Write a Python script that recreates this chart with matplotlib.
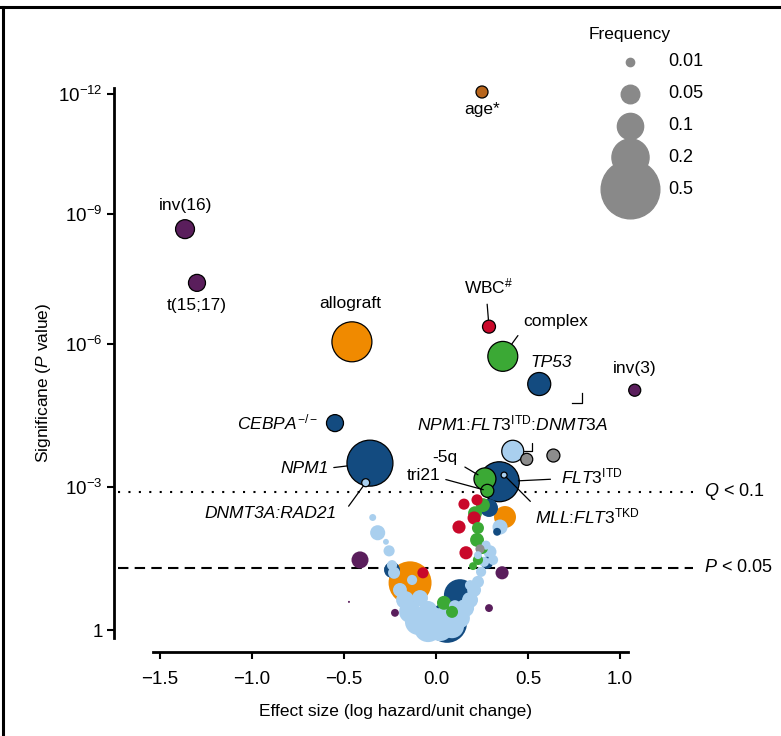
import matplotlib
matplotlib.use("Agg")
from matplotlib import pyplot as plt
from matplotlib import transforms
from matplotlib.lines import Line2D
import numpy as np

plt.rcParams["font.family"] = ["Liberation Sans", "DejaVu Sans"]
plt.rcParams["mathtext.fontset"] = "custom"
plt.rcParams["mathtext.rm"] = "Liberation Sans"
plt.rcParams["mathtext.it"] = "Liberation Sans:italic"
plt.rcParams["mathtext.bf"] = "Liberation Sans:bold"

# colours
dark_blue = "#134B80"
light_blue = "#A9CFEE"
green = "#3BA935"
red = "#C9082A"
orange = "#F08A00"
purple = "#5A1E5C"
grey = "#8C8C8C"
brown = "#B7651C"

# labelled / outlined variables: effect size, -log10 P, frequency
lab_names = ["age", "inv(16)", "t(15;17)", "allograft", "WBC", "complex", "TP53",
             "inv(3)", "CEBPA", "NPM1", "DNMT3A:RAD21", "NPM1:FLT3:DNMT3A",
             "FLT3ITD", "MLL:FLT3TKD", "-5q", "tri21", "grey1", "grey2"]
lab_x = [0.25, -1.364, -1.299, -0.457, 0.288, 0.363, 0.561, 1.08, -0.549, -0.359,
         -0.382, 0.417, 0.344, 0.37, 0.266, 0.279, 0.493, 0.638]
lab_p = [12.05, 8.65, 7.41, 6.05, 6.40, 5.74, 5.16, 5.03, 4.34, 3.50, 3.09, 3.75,
         3.11, 3.25, 3.17, 2.92, 3.58, 3.66]
lab_f = [0.021, 0.052, 0.042, 0.232, 0.0245, 0.13, 0.077, 0.021, 0.042, 0.307,
         0.0093, 0.070, 0.232, 0.0052, 0.070, 0.0245, 0.021, 0.0245]
lab_c = [brown, purple, purple, orange, red, green, dark_blue, purple, dark_blue,
         dark_blue, light_blue, light_blue, dark_blue, light_blue, green, green,
         grey, grey]

# unlabelled variables, by category colour
lb_x = [-0.344, -0.317, -0.272, -0.255, -0.239, -0.228, -0.196, -0.168, -0.141, -0.098,
        -0.043, 0.022, 0.087, 0.130, 0.158, 0.185, 0.207, 0.228, 0.245, 0.261,
        0.293, 0.228, 0.348, -0.087, -0.043, 0.049, 0.103, -0.130, 0.0, 0.185,
        0.272, 0.310]
lb_p = [2.36, 2.04, 1.85, 1.66, 1.36, 1.20, 0.84, 0.63, 0.38, 0.17,
        0.04, 0.04, 0.08, 0.25, 0.46, 0.63, 0.84, 1.01, 1.22, 1.43,
        1.64, 1.57, 2.16, 0.67, 0.42, 0.34, 0.50, 1.05, 0.21, 0.94,
        1.78, 1.47]
lb_f = [0.007, 0.033, 0.005, 0.018, 0.015, 0.021, 0.028, 0.047, 0.070, 0.098,
        0.114, 0.098, 0.084, 0.058, 0.047, 0.037, 0.028, 0.021, 0.015, 0.015,
        0.025, 0.009, 0.033, 0.037, 0.047, 0.037, 0.021, 0.015, 0.084, 0.015,
        0.012, 0.015]

db_x = [-0.239, 0.130, 0.060, 0.277, 0.288, 0.332, -0.033]
db_p = [1.26, 0.73, 0.15, 1.41, 2.56, 2.06, 0.21]
db_f = [0.037, 0.149, 0.232, 0.021, 0.047, 0.009, 0.131]

or_x = [-0.141, 0.375]
or_p = [0.99, 2.37]
or_f = [0.268, 0.070]

rd_x = [-0.071, 0.223, 0.152, 0.207, 0.125, 0.163]
rd_p = [1.20, 2.73, 2.64, 2.35, 2.16, 1.62]
rd_f = [0.018, 0.018, 0.018, 0.025, 0.025, 0.025]

gr_x = [0.212, 0.255, 0.228, 0.223, 0.250, 0.228, 0.201, 0.043, 0.087]
gr_p = [2.45, 2.62, 2.14, 1.89, 1.72, 1.47, 1.34, 0.57, 0.38]
gr_f = [0.028, 0.028, 0.021, 0.028, 0.021, 0.015, 0.009, 0.028, 0.021]

pu_x = [-0.413, -0.473, -0.223, 0.288, 0.359]
pu_p = [1.47, 0.59, 0.36, 0.46, 1.20]
pu_f = [0.042, 0.0006, 0.009, 0.009, 0.025]

gy_x = [0.239]
gy_p = [1.70]
gy_f = [0.012]

legend_freq = [0.01, 0.05, 0.1, 0.2, 0.5]
q_line = 2.9                 # Q < 0.1
p_line = -np.log10(0.05)     # P < 0.05

size_k = 3571  # marker area (pt^2) per unit frequency

# the y axis of the original is compressed above 1e-6
scale_t = [-10, 0, 6, 9, 12, 30]
scale_s = [-10, 0, 6, 8.727, 11.244, 11.244 + 18 * 0.839]


def fwd(t):
    return np.interp(t, scale_t, scale_s)


def inv(y):
    return np.interp(y, scale_s, scale_t)


fig = plt.figure(figsize=(7.81, 7.36), dpi=100)
ax = fig.add_axes([114 / 781, 84 / 736, 579 / 781, 632 / 736])
ax.set_yscale("function", functions=(fwd, inv))
ax.set_xlim(-1.75, 1.3967)
ax.set_ylim(-0.4615, 13.85)

# combine everything and draw large circles first
groups = [(lb_x, lb_p, lb_f, light_blue), (db_x, db_p, db_f, dark_blue),
          (or_x, or_p, or_f, orange), (rd_x, rd_p, rd_f, red),
          (gr_x, gr_p, gr_f, green), (pu_x, pu_p, pu_f, purple),
          (gy_x, gy_p, gy_f, grey)]
xs, ps, fs, cs, es, lws = [], [], [], [], [], []
for gx, gp, gf, col in groups:
    xs += gx; ps += gp; fs += gf
    cs += [col] * len(gx); es += ["none"] * len(gx); lws += [0] * len(gx)
xs += lab_x; ps += lab_p; fs += lab_f
cs += lab_c; es += ["black"] * len(lab_x); lws += [0.9] * len(lab_x)
xs, ps, fs = np.array(xs), np.array(ps), np.array(fs)
order = np.argsort(-fs, kind="stable")
ax.scatter(xs[order], ps[order], s=size_k * fs[order],
           c=[cs[i] for i in order], edgecolors=[es[i] for i in order],
           linewidths=[lws[i] for i in order], zorder=2)

# threshold lines
x0, x1 = 4 / 579, 581 / 579
ax.axhline(q_line, x0, x1, color="black", lw=1.5, ls=(0, (1, 4)), zorder=1)
ax.axhline(p_line, x0, x1, color="black", lw=1.5, ls=(0, (5, 3)), zorder=1)
bt = transforms.blended_transform_factory(ax.transAxes, ax.transData)
ax.text(1.019, q_line, r"$\mathit{Q}$ < 0.1", transform=bt, fontsize=13,
        ha="left", va="center")
ax.text(1.019, p_line, r"$\mathit{P}$ < 0.05", transform=bt, fontsize=13,
        ha="left", va="center")

# labels
pos = {n: (lab_x[i], lab_p[i]) for i, n in enumerate(lab_names)}
fs_lab = 12.5
line = dict(arrowstyle="-", lw=0.9, color="black")


def label(name, text, dx, dy, ha="center", style="normal", arrow=None):
    ax.annotate(text, xy=pos[name], xytext=(dx, dy), textcoords="offset pixels",
                ha=ha, va="center", fontsize=fs_lab, fontstyle=style,
                arrowprops=arrow, zorder=4)


label("age", "age*", 0, -18)
label("inv(16)", "inv(16)", 1, 24)
label("t(15;17)", "t(15;17)", 0, -23)
label("allograft", "allograft", -2, 38)
label("WBC", r"WBC$^{\#}$", 0, 40,
      arrow=dict(line, relpos=(0.45, 0), shrinkA=3.5, shrinkB=5))
label("complex", "complex", 20, 35, ha="left",
      arrow=dict(line, relpos=(0, 0), shrinkA=3.5, shrinkB=10.8))
label("TP53", "TP53", 12, 22, style="italic")
label("inv(3)", "inv(3)", 0, 22)
label("CEBPA", r"$\mathit{CEBPA}^{-/-}$", -17, 1, ha="right")
label("NPM1", "NPM1", -41, -5, ha="right", style="italic",
      arrow=dict(line, relpos=(1, 0.5), shrinkA=1.5, shrinkB=16.5))
label("DNMT3A:RAD21", "DNMT3A:RAD21", -29, -31, ha="right", style="italic",
      arrow=dict(line, relpos=(1.09, 1), shrinkA=0, shrinkB=3))
label("NPM1:FLT3:DNMT3A",
      r"$\mathit{NPM1}$:$\mathit{FLT3}^{\mathrm{ITD}}$:$\mathit{DNMT3A}$", 0, 28,
      arrow=dict(line, relpos=(0.6, 0), shrinkA=5, shrinkB=8,
                 connectionstyle="angle,angleA=90,angleB=0,rad=0"))
label("FLT3ITD", r"$\mathit{FLT3}^{\mathrm{ITD}}$", 62, 5, ha="left",
      arrow=dict(line, relpos=(0, 0.4), shrinkA=5.8, shrinkB=13.7))
label("MLL:FLT3TKD", r"$\mathit{MLL}$:$\mathit{FLT3}^{\mathrm{TKD}}$", 31, -41,
      ha="left", arrow=dict(line, relpos=(0, 1), shrinkA=2, shrinkB=2))
label("-5q", "-5q", -28, 21, ha="right",
      arrow=dict(line, relpos=(1, 0.2), shrinkA=4.3, shrinkB=5.8))
label("tri21", "tri21", -47, 15, ha="right",
      arrow=dict(line, relpos=(1, 0.35), shrinkA=2, shrinkB=3))

# axes styling
for side in ["top", "right"]:
    ax.spines[side].set_visible(False)
ax.spines["left"].set_linewidth(2)
ax.spines["bottom"].set_linewidth(2)
ax.spines["left"].set_bounds(-0.168, 12.15)
ax.spines["bottom"].set_bounds(-1.538, 1.043)
ax.set_xticks([-1.5, -1.0, -0.5, 0.0, 0.5, 1.0])
ax.set_xticklabels(["\u22121.5", "\u22121.0", "\u22120.5", "0.0", "0.5", "1.0"])
ax.set_yticks([0, 3, 6, 9, 12])
ax.set_yticklabels(["1", r"$\mathregular{10^{-3}}$", r"$\mathregular{10^{-6}}$",
                    r"$\mathregular{10^{-9}}$", r"$\mathregular{10^{-12}}$"])
ax.tick_params(axis="both", direction="out", length=5, width=1.5, labelsize=13.5)
ax.tick_params(axis="x", pad=9)
ax.tick_params(axis="y", pad=3)
ax.minorticks_off()

lab_font = dict(family=["Liberation Sans"], fontsize=12.5)
ax.set_xlabel("Effect size (log hazard/unit change)", **lab_font)
ax.set_ylabel(r"Significane ($\mathit{P}$ value)", **lab_font)
ax.xaxis.set_label_coords(0.487, -0.083)
ax.yaxis.set_label_coords(-0.105, 0.4256)

# size legend
W, H = 781, 736
fig.text(630 / W, 1 - 35 / H, "Frequency", ha="center", va="center", fontsize=12.5)
leg_y = [62, 94, 126, 157, 189]
for f, yy in zip(legend_freq, leg_y):
    ax.scatter([630 / W], [1 - yy / H], s=size_k * f, color="#898989",
               transform=fig.transFigure, clip_on=False, zorder=5)
    fig.text(668 / W, 1 - yy / H, str(f), ha="left", va="center", fontsize=13)

# small leader bracket next to TP53
fig.add_artist(Line2D([572 / W, 582 / W, 582 / W], [1 - 403 / H, 1 - 403 / H, 1 - 393 / H],
                      color="black", lw=0.9))

# panel frame (top and left edges)
fig.add_artist(Line2D([0, 1], [1 - 7 / H, 1 - 7 / H], color="black", lw=2.2))
fig.add_artist(Line2D([3 / W, 3 / W], [0, 1 - 7 / H], color="black", lw=2.2))

fig.savefig("out.png", dpi=100)
